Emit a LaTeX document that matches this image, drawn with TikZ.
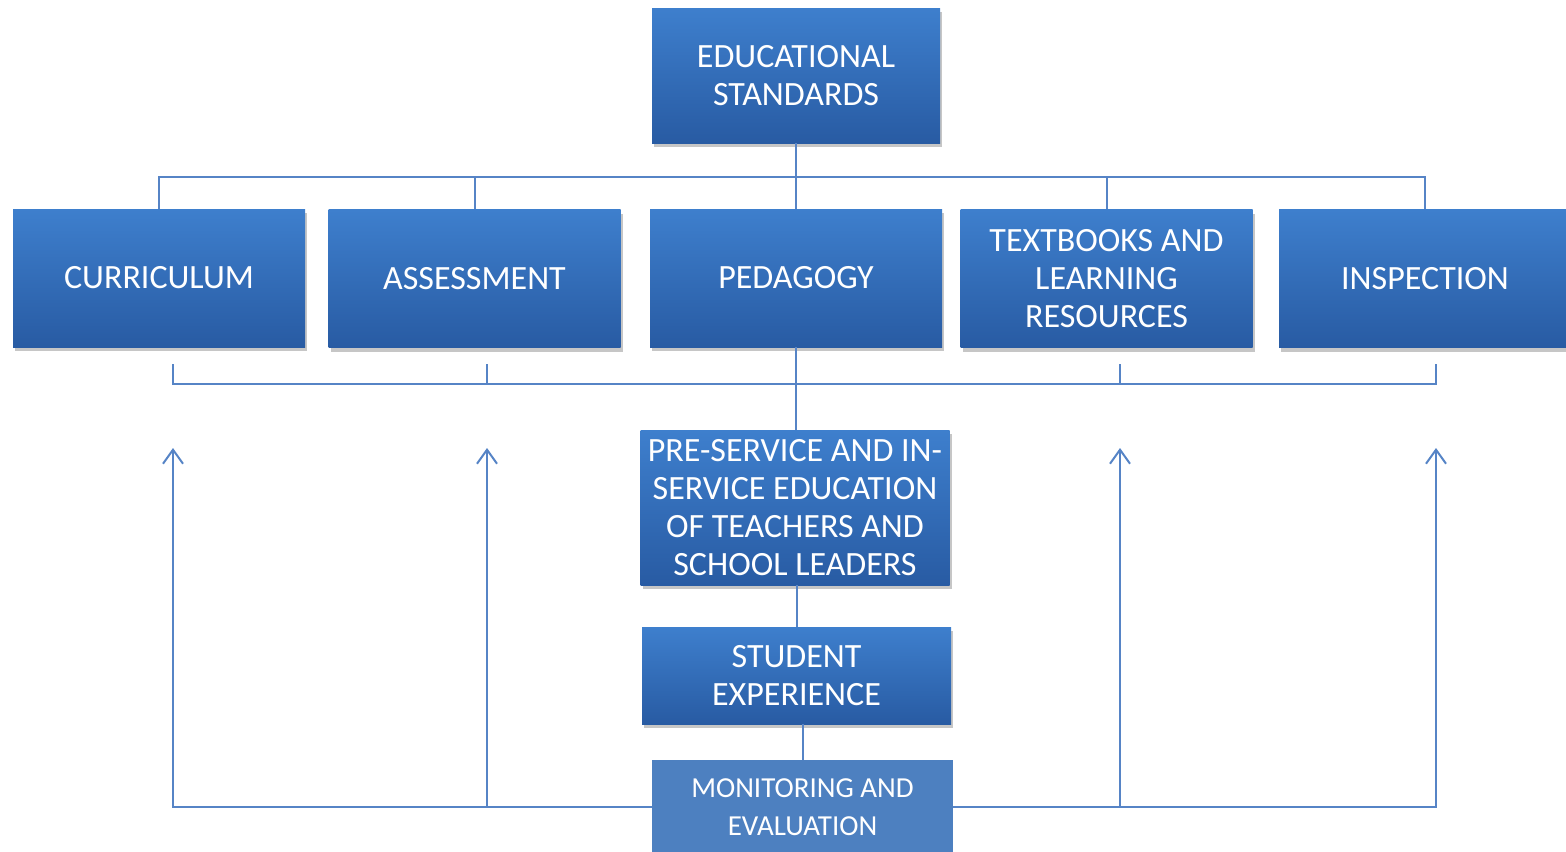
\documentclass[tikz,border=0pt]{standalone}
\usepackage{fontspec}
\setmainfont{Carlito}
\usetikzlibrary{arrows.meta,shadows}
\definecolor{boxtop}{RGB}{62,127,205}
\definecolor{boxbot}{RGB}{40,91,163}
\definecolor{flatblue}{RGB}{77,128,192}
\definecolor{linkblue}{RGB}{86,132,198}
\tikzset{
  stdbox/.style={shading=axis, top color=boxtop, bottom color=boxbot, text=white, align=center, inner sep=0pt,
    drop shadow={shadow xshift=1pt, shadow yshift=-2pt, opacity=0.45},
    minimum width=146pt, minimum height=69pt, font=\fontsize{17}{19}\selectfont},
  flatbox/.style={fill=flatblue, text=white, align=center, inner sep=0pt,
    minimum width=150.5pt, minimum height=47pt, font=\fontsize{14.5}{19}\selectfont},
  link/.style={draw=linkblue, line width=1pt},
  uparrow/.style={link, -{Straight Barb[length=7pt,width=10pt,line width=1pt]}}
}
\begin{document}
\begin{tikzpicture}[x=0.5pt, y=-0.5pt]
    \useasboundingbox (0,0) rectangle (1566,851);
    \node[stdbox, minimum width=144pt, minimum height=67.5pt] (edu) at (796,75.5) {EDUCATIONAL\\STANDARDS};
    \node[stdbox] (curr) at (159,278) {CURRICULUM};
    \node[stdbox] (assess) at (474.5,278.5) {ASSESSMENT};
    \node[stdbox] (ped) at (796,278) {PEDAGOGY};
    \node[stdbox] (text) at (1106.5,278.5) {TEXTBOOKS AND\\LEARNING\\RESOURCES};
    \node[stdbox] (insp) at (1425,278.5) {INSPECTION};
    \node[stdbox, minimum width=154.5pt, minimum height=77.5pt] (pre) at (795,507.5) {PRE-SERVICE AND IN-\\SERVICE EDUCATION\\OF TEACHERS AND\\SCHOOL LEADERS};
    \node[stdbox, minimum width=154.5pt, minimum height=48.5pt] (stud) at (796.5,675.5) {STUDENT\\EXPERIENCE};
    \node[flatbox] (mon) at (802.5,807) {MONITORING AND\\EVALUATION};
    \coordinate (bus) at (796,177);
    \coordinate (b1) at (173,384);
    \coordinate (b2) at (487,384);
    \coordinate (b3) at (1120,384);
    \coordinate (b4) at (1436,384);
    \coordinate (a1) at (173,448);
    \coordinate (a2) at (487,448);
    \coordinate (a3) at (1120,448);
    \coordinate (a4) at (1436,448);
    \draw[link] (edu.south) -- (ped.north);
    \draw[link] (curr.north) |- (bus) -| (insp.north);
    \draw[link] (assess.north) -- (assess.north |- bus);
    \draw[link] (text.north) -- (text.north |- bus);
    \draw[link] ([yshift=10pt]b1) -- (b1) -- (b4) -- ([yshift=10pt]b4);
    \draw[link] ([yshift=10pt]b2) -- (b2);
    \draw[link] ([yshift=10pt]b3) -- (b3);
    \draw[link] (ped.south) -- (ped.south |- pre.north);
    \draw[link] (stud.north |- pre.south) -- (stud.north);
    \draw[link] (mon.north) -- (mon.north |- stud.south);
    \draw[uparrow] (mon.west) -| (a1);
    \draw[uparrow] (a2 |- mon.west) -- (a2);
    \draw[uparrow] (mon.east) -| (a4);
    \draw[uparrow] (a3 |- mon.east) -- (a3);
\end{tikzpicture}
\end{document}
